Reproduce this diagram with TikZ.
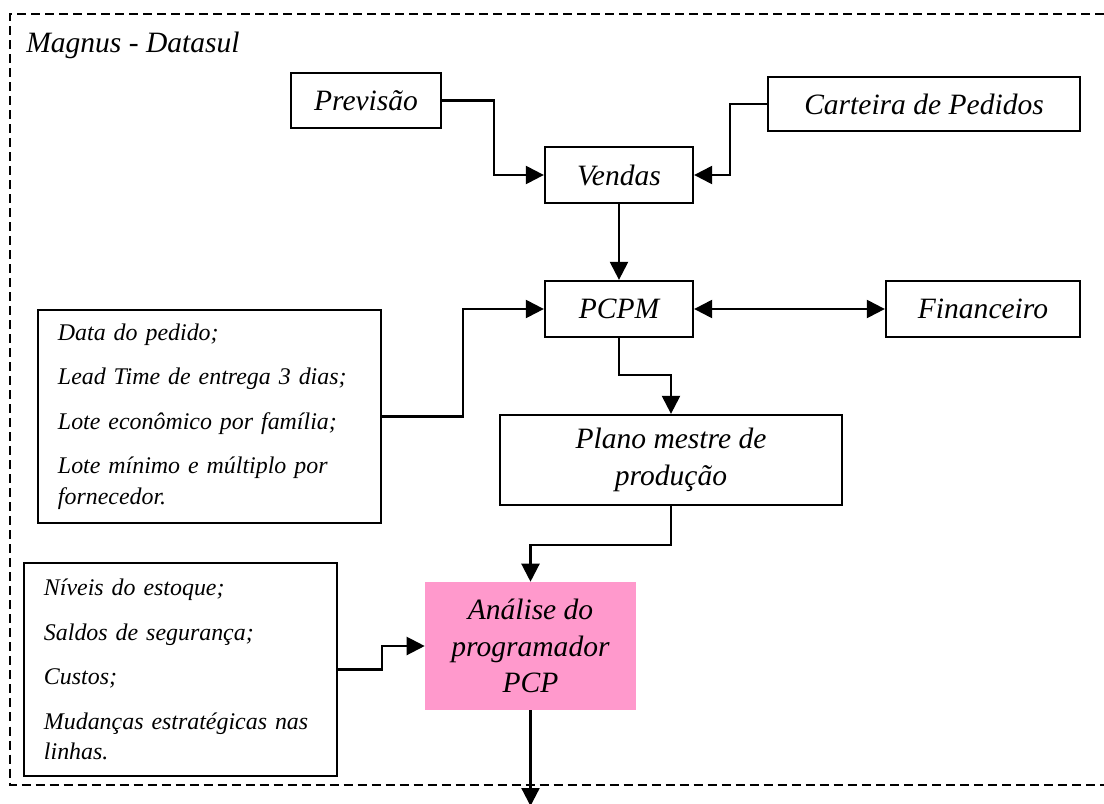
\documentclass[tikz,border=0pt]{standalone}
\usepackage{fontspec}
\setmainfont{Liberation Serif}
\definecolor{rose}{HTML}{FF99CC}
\usetikzlibrary{positioning, calc, arrows.meta}

\begin{document}
\begin{tikzpicture}[
    x=0.025cm, y=-0.025cm,
    % Node styles
    box node/.style={
        rectangle,
        draw=black,
        line width=1.6pt,
        inner sep=0pt,
        align=center,
        font=\fontsize{21}{26}\selectfont\itshape
    },
    list node/.style={
        rectangle,
        draw=black,
        line width=1.6pt,
        inner xsep=0.5cm,
        inner ysep=0pt,
        align=left,
        font=\fontsize{17}{21.6}\selectfont\itshape
    },
    pcp node/.style={
        rectangle,
        fill=rose,
        inner sep=0pt,
        align=center,
        font=\fontsize{21}{26}\selectfont\itshape
    },
    flow/.style={
        draw=black,
        line width=1.6pt,
        >={Triangle[length=0.45cm, width=0.45cm]}
    },
    frame line/.style={
        draw=black,
        line width=1.4pt,
        dash pattern=on 0.225cm off 0.125cm
    }
]

% Page size
\useasboundingbox (0,0) rectangle (1104,803);

% System frame
\draw[frame line] (1104,14) -- (10,14) -- (10,785) -- (1104,785);
\node[anchor=base west, inner xsep=0pt, font=\fontsize{21}{26}\selectfont\itshape] (sistema) at (26,52) {Magnus - Datasul};

% Demand side
\node[box node, minimum width=3.75cm, minimum height=1.375cm] (previsao) at (366,100.5) {Previsão};
\node[box node, minimum width=7.8cm, minimum height=1.35cm] (carteira) at (924,104) {Carteira de Pedidos};
\node[box node, minimum width=3.7cm, minimum height=1.4cm] (vendas) at (619,175) {Vendas};

% Planning
\node[box node, minimum width=3.7cm, minimum height=1.4cm] (pcpm) at (619,309) {PCPM};
\node[box node, minimum width=4.85cm, minimum height=1.4cm] (financeiro) at (983,309) {Financeiro};
\node[box node, minimum width=8.55cm, minimum height=2.25cm] (plano) at (671,460) {Plano mestre de\\produção};
\node[pcp node, minimum width=5.275cm, minimum height=3.2cm] (analise) at (530.5,646) {Análise do\\programador\\PCP};

% Input lists
\node[list node, text width=7.575cm, minimum height=5.325cm] (pedido) at (209.5,416.5) {
    Data do pedido;\\[10pt]
    Lead Time de entrega 3 dias;\\[10pt]
    Lote econômico por família;\\[10pt]
    Lote mínimo e múltiplo por\\
    fornecedor.};
\node[list node, text width=6.825cm, minimum height=5.325cm] (estoque) at (180.5,669.5) {
    Níveis do estoque;\\[10pt]
    Saldos de segurança;\\[10pt]
    Custos;\\[10pt]
    Mudanças estratégicas nas\\
    linhas.};

% Connections
\draw[flow, ->] (previsao.east) -- ++(52,0) |- (vendas.west);
\draw[flow, ->] (carteira.west) -- ++(-37,0) |- (vendas.east);
\draw[flow, ->] (vendas) -- (pcpm);
\draw[flow, ->] (pedido.east) -- ++(81,0) |- (pcpm.west);
\draw[flow, <->] (pcpm) -- (financeiro);
\draw[flow, ->] (pcpm.south) -- ++(0,37) -| (plano.north);
\draw[flow, ->] (plano.south) -- ++(0,39) -| (analise.north);
\draw[flow, ->] (estoque.east) -- ++(44,0) |- (analise.west);

% Output leaves the frame
\coordinate (saida) at (530.5,806);
\draw[flow, ->] (analise.south) -- (saida);

\end{tikzpicture}
\end{document}
